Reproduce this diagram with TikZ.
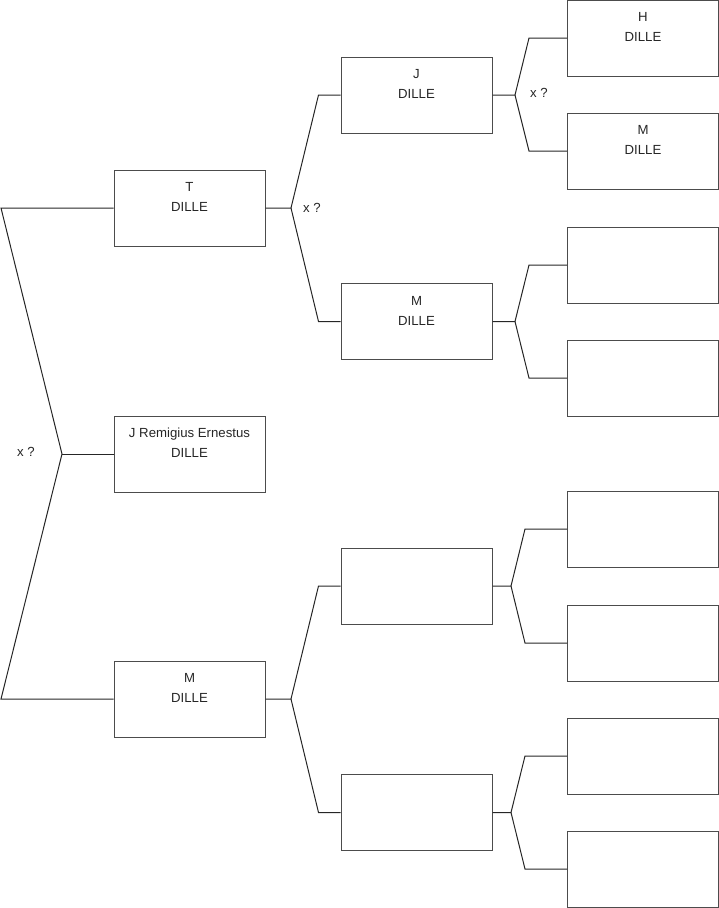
\documentclass[tikz,border=0pt]{standalone}
\usepackage{fontspec}
\setmainfont{Liberation Sans}
\usetikzlibrary{calc}
\begin{document}
\begin{tikzpicture}[x=1pt,y=-1pt,
  box/.style={draw=black!70,line width=1pt,minimum width=151pt,minimum height=76pt,inner sep=0pt},
  txt/.style={align=center,font=\fontsize{13.2}{20}\selectfont,text=black!85,inner sep=0pt},
  conn/.style={draw=black!85,line width=1pt}]
\useasboundingbox (0,0) rectangle (719,908);
% column 1
\node[box] (T) at (189.5,208) {};
\node[box] (JR) at (189.5,454) {};
\node[box] (MB) at (189.5,699) {};
% column 2
\node[box] (J) at (416.5,95) {};
\node[box] (MM) at (416.5,321.5) {};
\node[box] (E1) at (416.5,586) {};
\node[box] (E2) at (416.5,812.5) {};
% column 3
\node[box] (H) at (643,38) {};
\node[box] (M3) at (643,151) {};
\node[box] (C3) at (643,265) {};
\node[box] (C4) at (643,378) {};
\node[box] (C5) at (643,529) {};
\node[box] (C6) at (643,643) {};
\node[box] (C7) at (643,756) {};
\node[box] (C8) at (643,869) {};
% texts
\node[txt] (tT) at ($(T)+(0,-11)$) {T\\DILLE};
\node[txt] (tJR) at ($(JR)+(0,-11)$) {J Remigius Ernestus\\DILLE};
\node[txt] (tMB) at ($(MB)+(0,-11)$) {M\\DILLE};
\node[txt] (tJ) at ($(J)+(0,-11)$) {J\\DILLE};
\node[txt] (tMM) at ($(MM)+(0,-11)$) {M\\DILLE};
\node[txt] (tH) at ($(H)+(0,-11)$) {H\\DILLE};
\node[txt] (tM3) at ($(M3)+(0,-11)$) {M\\DILLE};
\node[txt] (x1) at (26,452) {x ?};
\node[txt] (x2) at (312,208) {x ?};
\node[txt] (x3) at (539,93) {x ?};
% fork points
\coordinate (r0) at (62,454);
\coordinate (fT) at (291,208);
\coordinate (fMB) at (291,699);
\coordinate (fJ) at (515,95);
\coordinate (fMM) at (515,321.5);
\coordinate (fE1) at (511,586);
\coordinate (fE2) at (511,812.5);
% root bracket
\draw[conn] (T.west) -- (1,208) -- (r0) -- (1,699) -- (MB.west);
\draw[conn] (r0) -- (JR.west);
% T
\draw[conn] (T.east) -- (fT) -- ($(J.west)+(-22,0)$) -- (J.west);
\draw[conn] (fT) -- ($(MM.west)+(-22,0)$) -- (MM.west);
% MB
\draw[conn] (MB.east) -- (fMB) -- ($(E1.west)+(-22,0)$) -- (E1.west);
\draw[conn] (fMB) -- ($(E2.west)+(-22,0)$) -- (E2.west);
% J
\draw[conn] (J.east) -- (fJ) -- ($(H.west)+(-38,0)$) -- (H.west);
\draw[conn] (fJ) -- ($(M3.west)+(-38,0)$) -- (M3.west);
% MM
\draw[conn] (MM.east) -- (fMM) -- ($(C3.west)+(-38,0)$) -- (C3.west);
\draw[conn] (fMM) -- ($(C4.west)+(-38,0)$) -- (C4.west);
% E1
\draw[conn] (E1.east) -- (fE1) -- ($(C5.west)+(-42,0)$) -- (C5.west);
\draw[conn] (fE1) -- ($(C6.west)+(-42,0)$) -- (C6.west);
% E2
\draw[conn] (E2.east) -- (fE2) -- ($(C7.west)+(-42,0)$) -- (C7.west);
\draw[conn] (fE2) -- ($(C8.west)+(-42,0)$) -- (C8.west);
\end{tikzpicture}
\end{document}
